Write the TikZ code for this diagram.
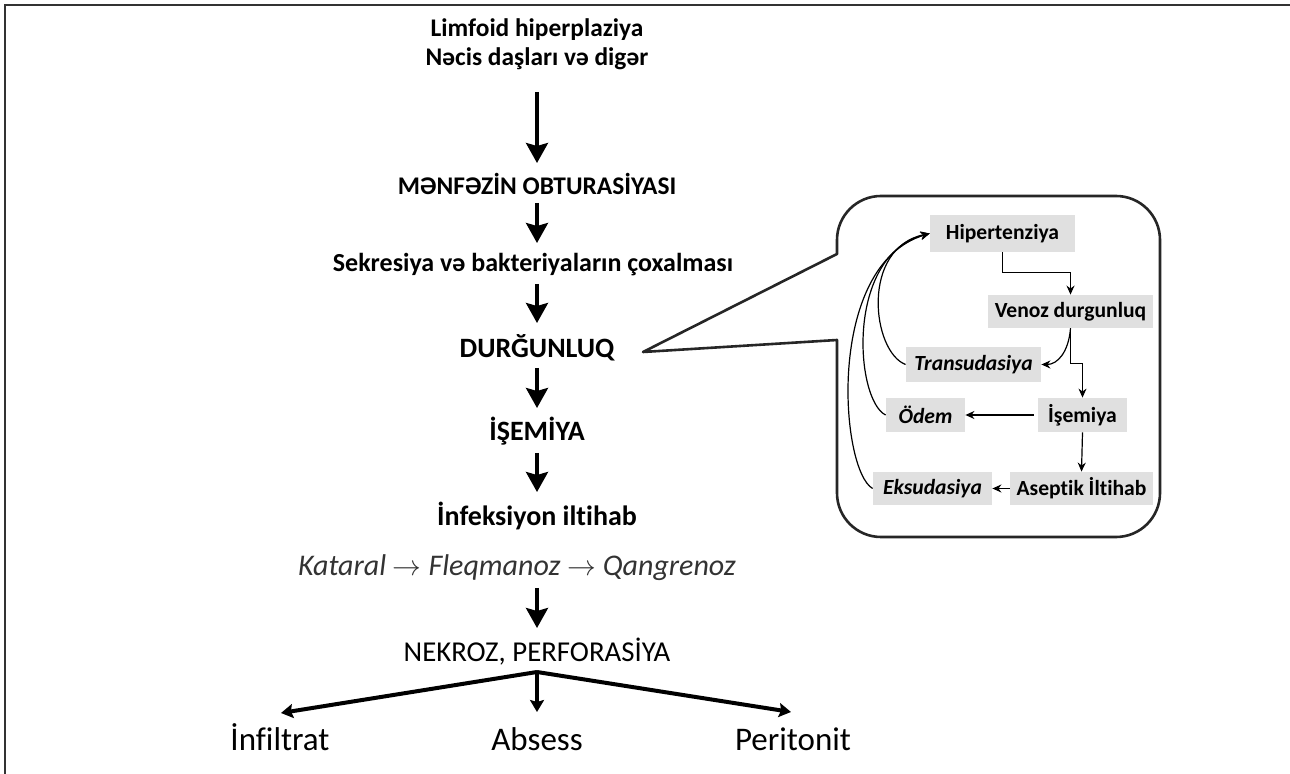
\documentclass[tikz,border=0pt]{standalone}
\usepackage{fontspec}
\setmainfont{Carlito}[Ligatures=CommonOff]
\usetikzlibrary{arrows.meta,calc}
\begin{document}
\begin{tikzpicture}[x=0.5pt,y=-0.5pt,
  chain/.style={inner sep=0pt,font=\bfseries\fontsize{12.7}{14}\selectfont},
  big/.style={inner sep=0pt,font=\bfseries\fontsize{14}{16}\selectfont},
  bigarrow/.style={line width=1.7pt,-{Stealth[width=11pt,length=10pt,inset=1.5pt]}},
  brarrow/.style={line width=2pt,-{Stealth[width=7pt,length=6pt,inset=1pt]}},
  gbox/.style={fill=black!12,inner sep=0pt,font=\bfseries\fontsize{10.8}{12}\selectfont},
  ibox/.style={gbox,font=\bfseries\itshape\fontsize{10.8}{12}\selectfont},
  thinarrow/.style={line width=0.6pt,-{Stealth[width=4pt,length=4.5pt]}},
  result/.style={inner sep=0pt,anchor=base,font=\fontsize{16.5}{18}\selectfont}]
\useasboundingbox (0,0) rectangle (1290,774);
% frame
\draw[line width=1.1pt,black!80] (1290,5) -- (5,5) -- (5,774);
% main chain
\node[chain] (n1) at (537,30) {Limfoid hiperplaziya};
\node[chain] (n2) at (537,59) {Nəcis daşları və digər};
\node[chain] (n3) at (537,184) {MƏNFƏZİN OBTURASİYASI};
\node[chain,font=\bfseries\fontsize{13}{15}\selectfont] (n4) at (533,265) {Sekresiya və bakteriyaların çoxalması};
\node[big] (n5) at (537,348) {DURĞUNLUQ};
\node[big] (n6) at (537,431) {İŞEMİYA};
\node[big] (n7) at (537,516) {İnfeksiyon iltihab};
\node[inner sep=0pt,text=black!80,font=\itshape\fontsize{15}{17}\selectfont] (n8) at (517,568) {Kataral $\rightarrow$ Fleqmanoz $\rightarrow$ Qangrenoz};
\node[inner sep=0pt,font=\fontsize{14.4}{16}\selectfont] (n9) at (537,652) {NEKROZ, PERFORASİYA};
\node[result] (r1) at (280,750) {İnfiltrat};
\node[result] (r2) at (537,750) {Absess};
\node[result] (r3) at (793,750) {Peritonit};
\draw[bigarrow] ($(n2.center)+(0,33)$) -- ($(n3.center)+(0,-21)$);
\draw[bigarrow] ($(n3.center)+(0,19)$) -- ($(n4.center)+(4,-22)$);
\draw[bigarrow] ($(n4.center)+(4,19)$) -- ($(n5.center)+(0,-25)$);
\draw[bigarrow] ($(n5.center)+(0,20)$) -- ($(n6.center)+(0,-23)$);
\draw[bigarrow] ($(n6.center)+(0,22)$) -- ($(n7.center)+(0,-24)$);
\draw[bigarrow] ($(n8.center)+(20,20)$) -- ($(n9.center)+(0,-24)$);
\coordinate (br) at ($(n9.center)+(0,20)$);
\draw[brarrow] (br) -- ($(r1.base)+(1,-37)$);
\draw[brarrow] (br) -- ($(r2.base)+(0,-38)$);
\draw[brarrow] (br) -- ($(r3.base)+(-2,-38)$);
% callout
\coordinate (tip) at (643,352);
\draw[line width=1.3pt,black!85,line join=round] (tip) -- (837,254) -- (837,246)
  [rounded corners=22pt] -- (837,196) -- (1160,196) -- (1160,537) -- (837,537) -- (837,420)
  [sharp corners] -- (837,340) -- cycle;
% inner nodes
\node[gbox,minimum width=72.5pt,minimum height=18.5pt] (hip) at (1002.5,233.5) {Hipertenziya};
\node[gbox,minimum width=82.5pt,minimum height=16.5pt] (ven) at (1070.5,311.5) {Venoz durgunluq};
\node[ibox,minimum width=67.5pt,minimum height=17.5pt] (tra) at (973.5,364.5) {Transudasiya};
\node[ibox,minimum width=39.5pt,minimum height=17pt] (ode) at (925.5,415) {Ödem};
\node[gbox,minimum width=44.5pt,minimum height=17pt] (ise) at (1082.5,415) {İşemiya};
\node[ibox,minimum width=59.5pt,minimum height=16.5pt] (eks) at (932.5,488.5) {Eksudasiya};
\node[gbox,minimum width=71.5pt,minimum height=16.5pt] (ase) at (1081.5,488.5) {Aseptik İltihab};
% inner arrows
\draw[thinarrow] (hip.south) -- ++(0,20) -| (ven.north);
\draw[thinarrow] (ven.south) -- ++(0,35) -| (ise.north);
\draw[thinarrow] (ven.south) .. controls +(-2,24) and +(16,0) .. (tra.east);
\draw[thinarrow] ([xshift=-2pt]ise.west) -- (ode.east);
\draw[thinarrow] (ise.south) -- (ase.north);
\draw[thinarrow] (ase.west) -- (eks.east);
\draw[thinarrow] (tra.west) .. controls (872,352) and (860,248) .. (hip.west);
\draw[thinarrow] (ode.west) .. controls (855,400) and (845,255) .. (hip.west);
\draw[thinarrow] (eks.west) .. controls (840,470) and (825,265) .. (hip.west);
\end{tikzpicture}
\end{document}
